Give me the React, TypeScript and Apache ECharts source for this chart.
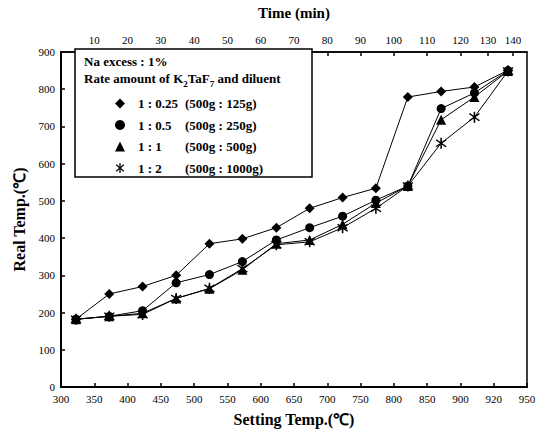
import React, { useEffect, useRef } from "react";
import * as echarts from "echarts";

// Bottom axis tick labels (Setting Temp., equally spaced ticks 0..14)
const bottomLabels = ["300", "350", "400", "450", "500", "550", "600", "650", "700", "750", "800", "850", "900", "920", "950"];
// Top axis (Time, min) labels and their positions on the bottom tick index scale
const topLabels = [10, 20, 30, 40, 50, 60, 70, 80, 90, 100, 110, 120, 130, 140];
const topTickPos = [1, 2, 3, 4, 5, 6, 7, 8, 9, 10, 11, 12, 12.83, 13.58];

// Measurement positions (on the tick index scale)
const pointX = [0.45, 1.45, 2.45, 3.46, 4.46, 5.45, 6.47, 7.47, 8.46, 9.46, 10.42, 11.42, 12.42, 13.43];

// Real temperatures
const ratio025 = [182, 250, 270, 300, 385, 398, 428, 480, 509, 534, 779, 794, 806, 851];
const ratio05 = [182, 190, 205, 280, 302, 337, 395, 428, 459, 502, 540, 748, 790, 850];
const ratio1 = [182, 190, 198, 238, 264, 315, 385, 395, 437, 494, 540, 718, 779, 849];
const ratio2 = [182, 190, 195, 238, 265, 318, 382, 390, 428, 480, 540, 655, 725, 849];

const seriesNames = ["1 : 0.25", "1 : 0.5", "1 : 1", "1 : 2"];
const seriesMass = ["(500g : 125g)", "(500g : 250g)", "(500g : 500g)", "(500g : 1000g)"];

const asterisk =
  "path://M-1.2,-10L-1.2,10L1.2,10L1.2,-10Z" +
  "M6.9,7.3L8.4,5.5L-6.9,-7.3L-8.4,-5.5Z" +
  "M8.4,-5.5L6.9,-7.3L-8.4,5.5L-6.9,7.3Z";

const symbols = ["diamond", "circle", "triangle", asterisk];
const symbolSizes = [10, 9, 10, 11];
const seriesData = [ratio025, ratio05, ratio1, ratio2];

const SERIF = "Liberation Serif";

export default function App() {
  const ref = useRef<HTMLDivElement>(null);
  useEffect(() => {
    if (!ref.current) return;
    const chart = echarts.init(ref.current, undefined, { renderer: "svg" });
    const option: any = {
      animation: false,
      backgroundColor: "#ffffff",
      textStyle: { fontFamily: SERIF, color: "#000" },
      grid: {
        left: 61,
        right: 14,
        top: 43,
        bottom: 49,
        show: true,
        borderColor: "#000",
        borderWidth: 1.5,
      },
      graphic: [
        {
          type: "rect",
          shape: { x: 75, y: 49, width: 237, height: 128 },
          style: { fill: "#fff", stroke: "#000", lineWidth: 1.5 },
          z: 5,
        },
        {
          type: "text",
          x: 84,
          y: 55,
          z: 6,
          style: {
            text: "Na excess : 1%",
            fontFamily: SERIF,
            fontWeight: "bold",
            fontSize: 13,
            fill: "#000",
          },
        },
        {
          type: "text",
          x: 84,
          y: 72,
          z: 6,
          style: {
            text: "{m|Rate amount of K}{s|2}{m|TaF}{s|7}{m| and diluent}",
            fontFamily: SERIF,
            fill: "#000",
            rich: {
              m: { fontFamily: SERIF, fontWeight: "bold", fontSize: 13, lineHeight: 16, verticalAlign: "top" },
              s: { fontFamily: SERIF, fontWeight: "bold", fontSize: 9, lineHeight: 16, verticalAlign: "bottom", padding: [6, 0, 0, 0] },
            },
          },
        },
      ],
      legend: {
        orient: "vertical",
        left: 110,
        top: 92,
        itemWidth: 10,
        itemHeight: 10,
        itemGap: 8.5,
        z: 10,
        data: seriesNames.map((n, i) => ({ name: n, icon: symbols[i] })),
        formatter: (name: string) => {
          const i = seriesNames.indexOf(name);
          return `{a|${name}}{b|${seriesMass[i]}}`;
        },
        textStyle: {
          rich: {
            a: { fontFamily: SERIF, fontWeight: "bold", fontSize: 13, width: 47, padding: [0, 0, 0, 8], color: "#000" },
            b: { fontFamily: SERIF, fontWeight: "bold", fontSize: 13, color: "#000" },
          },
        },
      },
      xAxis: [
        {
          type: "value",
          position: "bottom",
          min: 0,
          max: 14,
          interval: 1,
          name: "Setting Temp.(℃)",
          nameLocation: "middle",
          nameGap: 24,
          nameTextStyle: { fontFamily: SERIF, fontWeight: "bold", fontSize: 16, color: "#000" },
          axisLine: { show: true, lineStyle: { color: "#000", width: 2 } },
          axisTick: { show: true, inside: true, length: 4, lineStyle: { color: "#000", width: 1.5 } },
          axisLabel: {
            fontFamily: SERIF,
            fontSize: 11,
            color: "#000",
            margin: 6,
            formatter: (v: number) => bottomLabels[Math.round(v)] ?? "",
          },
          splitLine: { show: false },
        },
        {
          type: "value",
          position: "top",
          min: 0,
          max: 14,
          name: "Time (min)",
          nameLocation: "middle",
          nameGap: 32,
          nameTextStyle: { fontFamily: SERIF, fontWeight: "bold", fontSize: 15, color: "#000" },
          axisLine: { show: true, lineStyle: { color: "#000", width: 1.5 } },
          axisTick: {
            show: true,
            inside: true,
            length: 4,
            customValues: topTickPos,
            lineStyle: { color: "#000", width: 1.5 },
          },
          axisLabel: {
            fontFamily: SERIF,
            fontSize: 11,
            color: "#000",
            margin: 7,
            customValues: topTickPos,
            formatter: (v: number) => {
              let best = 0;
              for (let i = 0; i < topTickPos.length; i++) {
                if (Math.abs(topTickPos[i] - v) < Math.abs(topTickPos[best] - v)) best = i;
              }
              return String(topLabels[best]);
            },
          },
          splitLine: { show: false },
        },
      ],
      yAxis: [
        {
          type: "value",
          min: 0,
          max: 900,
          interval: 100,
          name: "Real Temp.(℃)",
          nameLocation: "middle",
          nameGap: 34,
          nameTextStyle: { fontFamily: SERIF, fontWeight: "bold", fontSize: 16, color: "#000" },
          axisLine: { show: true, lineStyle: { color: "#000", width: 2 } },
          axisTick: { show: true, inside: true, length: 4, lineStyle: { color: "#000", width: 1.5 } },
          axisLabel: { fontFamily: SERIF, fontSize: 11, color: "#000", margin: 6 },
          splitLine: { show: false },
        },
      ],
      series: seriesNames.map((name, i) => ({
        name,
        type: "line",
        xAxisIndex: 0,
        yAxisIndex: 0,
        data: seriesData[i].map((y, k) => [pointX[k], y]),
        symbol: symbols[i],
        symbolSize: symbolSizes[i],
        showAllSymbol: true,
        itemStyle: { color: "#000" },
        lineStyle: { color: "#000", width: 1 },
        z: 2,
      })),
    };
    chart.setOption(option);
    return () => chart.dispose();
  }, []);
  return <div ref={ref} style={{ width: 541, height: 436, position: "absolute", left: 0, top: 0 }} />;
}
